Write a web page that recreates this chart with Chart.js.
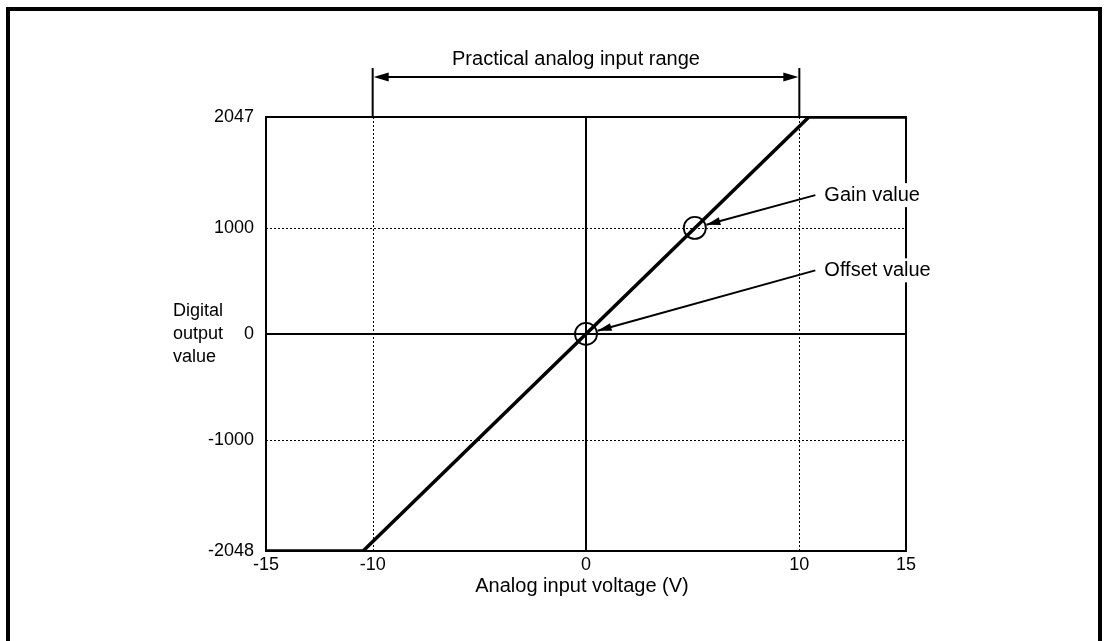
<!DOCTYPE html>
<html>
<head>
<meta charset="utf-8">
<script src="https://cdn.jsdelivr.net/npm/chart.js@4.4.1/dist/chart.umd.min.js"></script>
<style>
  html, body { margin: 0; padding: 0; background: #fff; }
  #wrap { width: 1106px; height: 641px; position: relative; }
</style>
</head>
<body>
<div id="wrap"><canvas id="mainCanvas"></canvas></div>
<script>
// transfer characteristic (V -> digital value)
const voltage = [-15, -10.45, 0, 10.45, 15];
const digital = [-2048, -2048, 0, 2047, 2047];

// marked points: offset and gain
const markX = [0, 5.1];
const markY = [0, 1000];
const markNames = ['Offset value', 'Gain value'];
// where the label arrows start (data units)
const labelX = [10.75, 10.75];
const labelY = [600, 1310];

const xTicks = [-15, -10, 0, 10, 15];
const yTicks = [-2048, -1000, 0, 1000, 2047];
const dottedX = [-10, 10];
const dottedY = [-1000, 1000];
const rangeFrom = -10, rangeTo = 10;
const rangeText = 'Practical analog input range';
const xTitle = 'Analog input voltage (V)';
const yTitle = ['Digital', 'output', 'value'];

const FONT = '"Liberation Sans", Arial, sans-serif';
const FSIZE = 18;   // ticks, y title
const LSIZE = 20;   // other labels

function arrowHead(ctx, x1, y1, x2, y2, len, wid) {
    const a = Math.atan2(y2 - y1, x2 - x1);
    ctx.beginPath();
    ctx.moveTo(x2, y2);
    ctx.lineTo(x2 - len * Math.cos(a) + wid * Math.sin(a), y2 - len * Math.sin(a) - wid * Math.cos(a));
    ctx.lineTo(x2 - len * Math.cos(a) - wid * Math.sin(a), y2 - len * Math.sin(a) + wid * Math.cos(a));
    ctx.closePath();
    ctx.fill();
}

const decor = {
    id: 'decor',
    beforeDatasetsDraw(chart) {
        const { ctx, chartArea: ca, scales: { x, y } } = chart;
        ctx.save();
        ctx.strokeStyle = '#000';
        // dotted grid
        ctx.lineWidth = 1;
        ctx.setLineDash([2, 2]);
        dottedX.forEach(v => {
            const px = Math.round(x.getPixelForValue(v)) + 0.5;
            ctx.beginPath(); ctx.moveTo(px, ca.top); ctx.lineTo(px, ca.bottom); ctx.stroke();
        });
        dottedY.forEach(v => {
            const py = Math.round(y.getPixelForValue(v)) + 0.5;
            ctx.beginPath(); ctx.moveTo(ca.left, py); ctx.lineTo(ca.right, py); ctx.stroke();
        });
        ctx.setLineDash([]);
        // zero axes
        ctx.lineWidth = 2;
        const x0 = x.getPixelForValue(0), y0 = y.getPixelForValue(0);
        ctx.beginPath(); ctx.moveTo(x0, ca.top); ctx.lineTo(x0, ca.bottom); ctx.stroke();
        ctx.beginPath(); ctx.moveTo(ca.left, y0); ctx.lineTo(ca.right, y0); ctx.stroke();
        // plot frame
        ctx.strokeRect(ca.left, ca.top, ca.right - ca.left, ca.bottom - ca.top);
        ctx.restore();
    },
    afterDatasetsDraw(chart) {
        const { ctx, chartArea: ca, scales: { x, y } } = chart;
        ctx.save();
        ctx.strokeStyle = '#000';
        ctx.fillStyle = '#000';
        // outer frame
        ctx.lineWidth = 4;
        ctx.beginPath();
        ctx.moveTo(8, 645); ctx.lineTo(8, 9); ctx.lineTo(1100, 9); ctx.lineTo(1100, 645);
        ctx.stroke();

        // practical range bracket
        const xa = x.getPixelForValue(rangeFrom), xb = x.getPixelForValue(rangeTo);
        const ya = ca.top - 40;
        ctx.lineWidth = 2;
        [xa, xb].forEach(px => {
            ctx.beginPath(); ctx.moveTo(px, ya - 9); ctx.lineTo(px, ca.top); ctx.stroke();
        });
        ctx.beginPath(); ctx.moveTo(xa + 10, ya); ctx.lineTo(xb - 10, ya); ctx.stroke();
        arrowHead(ctx, xb, ya, xa + 1, ya, 15, 4.5);
        arrowHead(ctx, xa, ya, xb - 1, ya, 15, 4.5);
        ctx.font = LSIZE + 'px ' + FONT;
        ctx.textAlign = 'center';
        ctx.textBaseline = 'middle';
        ctx.fillText(rangeText, (xa + xb) / 2 - 10, ya - 18);

        // callouts
        markNames.forEach((name, i) => {
            const sx = x.getPixelForValue(labelX[i]), sy = y.getPixelForValue(labelY[i]);
            const ex = x.getPixelForValue(markX[i]), ey = y.getPixelForValue(markY[i]);
            const a = Math.atan2(sy - ey, sx - ex);
            const tx = ex + 12 * Math.cos(a), ty = ey + 12 * Math.sin(a);
            ctx.lineWidth = 2;
            ctx.beginPath(); ctx.moveTo(sx, sy); ctx.lineTo(tx, ty); ctx.stroke();
            arrowHead(ctx, sx, sy, tx, ty, 14, 4);
            ctx.font = LSIZE + 'px ' + FONT;
            ctx.textAlign = 'left';
            ctx.textBaseline = 'middle';
            const w = ctx.measureText(name).width;
            ctx.fillStyle = '#fff';
            ctx.fillRect(sx + 6, sy - 12, w + 6, 24);
            ctx.fillStyle = '#000';
            ctx.fillText(name, sx + 9, sy);
        });

        // y title (horizontal, stacked)
        ctx.font = FSIZE + 'px ' + FONT;
        ctx.textAlign = 'left';
        ctx.textBaseline = 'middle';
        const yc = y.getPixelForValue(0);
        yTitle.forEach((t, i) => ctx.fillText(t, 173, yc + (i - 1) * 23));
        // x title
        ctx.font = LSIZE + 'px ' + FONT;
        ctx.textAlign = 'center';
        ctx.fillText(xTitle, x.getPixelForValue(0) - 4, ca.bottom + 35);
        ctx.restore();
    }
};

new Chart(document.getElementById('mainCanvas'), {
    type: 'scatter',
    data: {
        datasets: [{
            data: voltage.map((v, i) => ({ x: v, y: digital[i] })),
            showLine: true,
            borderColor: '#000',
            borderWidth: 3.5,
            pointRadius: 0,
            tension: 0
        }, {
            data: markX.map((v, i) => ({ x: v, y: markY[i] })),
            showLine: false,
            pointStyle: 'circle',
            pointRadius: 11,
            borderColor: '#000',
            borderWidth: 1.8,
            backgroundColor: 'rgba(0,0,0,0)'
        }]
    },
    plugins: [decor],
    options: {
        responsive: true,
        maintainAspectRatio: false,
        animation: false,
        layout: { padding: { left: 206, right: 200, top: 117, bottom: 40 } },
        plugins: { legend: { display: false }, tooltip: { enabled: false } },
        scales: {
            x: {
                type: 'linear', min: -15, max: 15,
                afterBuildTicks: s => { s.ticks = xTicks.map(v => ({ value: v })); },
                afterFit: s => { s.height = 50; },
                grid: { display: false, drawTicks: false },
                border: { display: false },
                ticks: { color: '#000', padding: 3, font: { family: FONT, size: FSIZE }, maxRotation: 0,
                         callback: v => String(v) }
            },
            y: {
                type: 'linear', min: -2048, max: 2047,
                afterBuildTicks: s => { s.ticks = yTicks.map(v => ({ value: v })); },
                afterFit: s => { s.width = 60; },
                grid: { display: false, drawTicks: false },
                border: { display: false },
                ticks: { color: '#000', padding: 12, font: { family: FONT, size: FSIZE },
                         callback: v => String(v) }
            }
        }
    }
});
</script>
</body>
</html>
